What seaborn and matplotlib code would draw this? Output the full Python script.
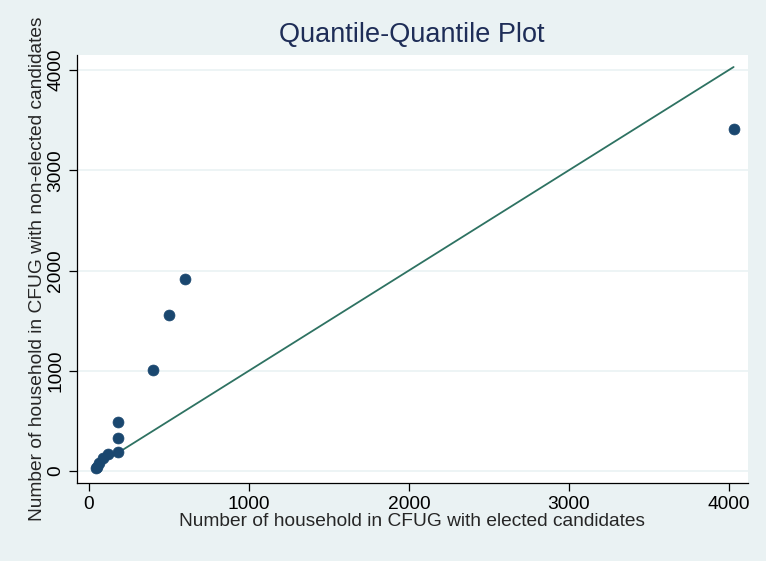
import numpy as np
import pandas as pd
import seaborn as sns
import matplotlib.pyplot as plt

# sorted quantiles
elected = [43, 48, 64, 85, 121, 179, 183, 183, 401, 500, 598, 4030]
non_elected = [33, 43, 83, 127, 170, 186, 332, 486, 1010, 1560, 1915, 3410]
xticks = [0, 1000, 2000, 3000, 4000]
yticks = [0, 1000, 2000, 3000, 4000]

df = pd.DataFrame({'elected': elected, 'non_elected': non_elected})
ref = pd.DataFrame({'x': [min(elected), max(elected)], 'y': [min(elected), max(elected)]})

sns.set_style('white')
plt.rcParams['font.family'] = ['Liberation Sans', 'DejaVu Sans']

bg = '#eaf2f3'
fig = plt.figure(figsize=(7.66, 5.61), dpi=100, facecolor=bg)
ax = fig.add_axes([0.1005, 0.139, 0.876, 0.763])
ax.set_facecolor('white')

for t in yticks:
    ax.axhline(t, color=bg, lw=1.2, zorder=0)

sns.lineplot(data=ref, x='x', y='y', color='#2e7262', lw=1.3, ax=ax, zorder=2)
sns.scatterplot(data=df, x='elected', y='non_elected', color='#1a476f', s=62,
                edgecolor='#1a476f', linewidth=0.5, ax=ax, zorder=3)

ax.set_xlim(-75, 4120)
ax.set_ylim(-120, 4150)
ax.set_xticks(xticks)
ax.set_yticks(yticks)
ax.set_yticklabels([str(t) for t in yticks], rotation=90, va='center')

for s in ['top', 'right']:
    ax.spines[s].set_visible(False)
for s in ['left', 'bottom']:
    ax.spines[s].set_color('black')
    ax.spines[s].set_linewidth(0.9)
ax.tick_params(axis='both', direction='out', length=6, width=0.9, colors='black',
               labelsize=13.8, left=True, bottom=True, pad=3)

ax.set_xlabel('Number of household in CFUG with elected candidates', fontsize=13.8, labelpad=0)
ax.set_ylabel('Number of household in CFUG with non-elected candidates', fontsize=13.8, labelpad=1)
fig.text(0.538, 0.937, 'Quantile-Quantile Plot', ha='center', va='center',
         fontsize=19.5, color='#1e2d57')

fig.savefig('out.png', dpi=100, facecolor=bg)
